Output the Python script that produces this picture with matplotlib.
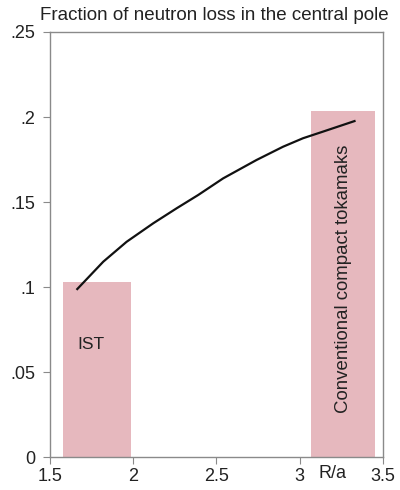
import matplotlib
matplotlib.use("Agg")
import matplotlib.pyplot as plt

plt.rcParams['font.family'] = ['Liberation Sans', 'DejaVu Sans']

# neutron-loss curve vs aspect ratio
r_over_a = [1.666, 1.822, 1.962, 2.122, 2.262, 2.391, 2.541, 2.741, 2.900, 3.020, 3.140, 3.329]
loss_frac = [0.0988, 0.1149, 0.1266, 0.1375, 0.1463, 0.1541, 0.1639, 0.1747, 0.1825, 0.1875, 0.1914, 0.1976]

# shaded regimes
band_names = ["IST", "Conventional compact tokamaks"]
band_left = [1.58, 3.07]
band_right = [1.99, 3.455]
band_height = [0.103, 0.2035]

xticks = [1.5, 2, 2.5, 3, 3.5]
xtick_labels = ["1.5", "2", "2.5", "3", "3.5"]
yticks = [0, 0.05, 0.1, 0.15, 0.2, 0.25]
ytick_labels = ["0", ".05", ".1", ".15", ".2", ".25"]

pink = '#e6b8be'
grey = '#8a8a8a'

fig = plt.figure(figsize=(4, 4.9), dpi=100)
ax = fig.add_axes([0.124, 0.0673, 0.8335, 0.8674])

for l, r, h in zip(band_left, band_right, band_height):
    ax.bar(l, h, width=r - l, align='edge', color=pink, zorder=1)

ax.plot(r_over_a, loss_frac, color='#111111', lw=1.6, zorder=3)

ax.text(1.745, 0.066, band_names[0], fontsize=12.5, ha='center', va='center', color='#222222')
ax.text(3.264, 0.1047, band_names[1], fontsize=13.4, ha='center', va='center',
        rotation=90, color='#222222')

ax.set_xlim(1.5, 3.5)
ax.set_ylim(0, 0.25)
ax.set_xticks(xticks)
ax.set_xticklabels(xtick_labels)
ax.set_yticks(yticks)
ax.set_yticklabels(ytick_labels)
ax.tick_params(direction='out', length=5, color=grey, labelsize=13, labelcolor='#222222')
ax.tick_params(axis='y', pad=5)
ax.tick_params(axis='x', pad=3)

for s in ax.spines.values():
    s.set_color(grey)
    s.set_linewidth(1.0)

ax.text(3.2, -0.0045, "R/a", fontsize=13, ha='center', va='top', color='#222222')
fig.text(0.1, 0.969, "Fraction of neutron loss in the central pole", fontsize=13.5,
         ha='left', va='center', color='#222222')

fig.savefig("out.png", dpi=100)
